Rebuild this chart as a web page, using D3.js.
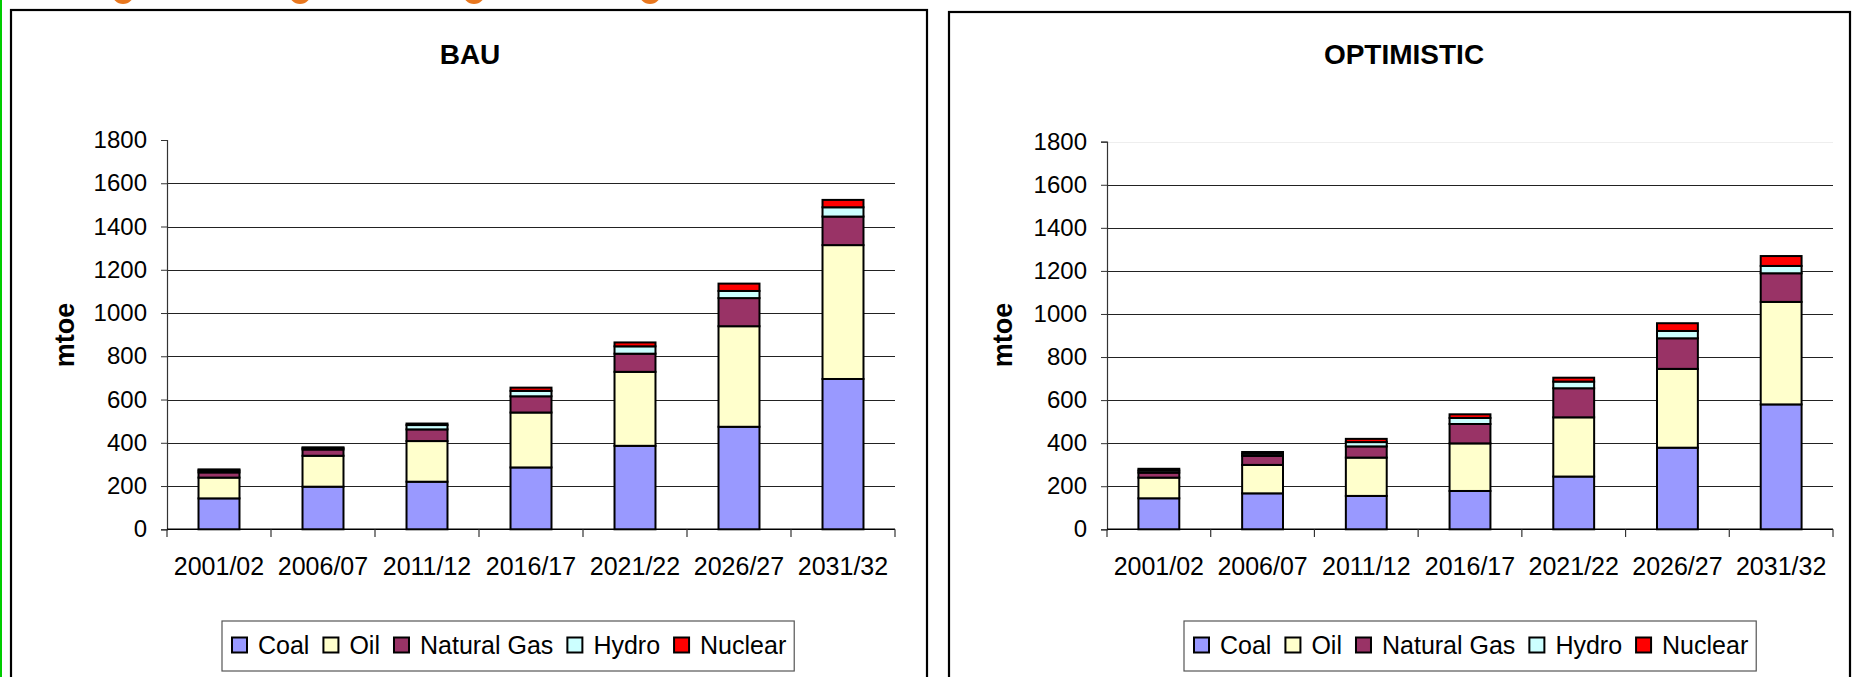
<!DOCTYPE html>
<html><head><meta charset="utf-8">
<script src="https://cdn.jsdelivr.net/npm/d3@7"></script>
<style>
html,body{margin:0;padding:0;background:#fff;}
svg{display:block;}
text{font-family:"Liberation Sans",Arial,sans-serif;}
</style></head>
<body>
<svg id="c" width="1855" height="677"></svg>
<script>
const categories = ["2001/02","2006/07","2011/12","2016/17","2021/22","2026/27","2031/32"];
const seriesNames = ["Coal","Oil","Natural Gas","Hydro","Nuclear"];
const seriesColors = ["#9999FF","#FFFFCC","#993366","#CCFFFF","#FF0000"];
const yTicks = [0,200,400,600,800,1000,1200,1400,1600,1800];

// BAU scenario (mtoe)
const bauCoal    = [143,197,220,286,386,474,695];
const bauOil     = [96,143,188,254,342,465,619];
const bauGas     = [24,29,54,75,84,130,132];
const bauHydro   = [9,6,20,25,34,33,43];
const bauNuclear = [5,4,7,15,18,34,34];

// OPTIMISTIC scenario (mtoe)
const optCoal    = [144,167,155,178,245,379,580];
const optOil     = [96,132,178,221,275,366,476];
const optGas     = [23,42,52,90,135,142,133];
const optHydro   = [10,10,20,28,31,34,34];
const optNuclear = [8,8,15,17,18,36,46];

const svg = d3.select("#c");

// slide decorations
svg.append("rect").attr("x",0).attr("y",0).attr("width",2).attr("height",677).attr("fill","#00CC00");
[123,300,474,650].forEach(cx=>{
  svg.append("circle").attr("cx",cx).attr("cy",-7).attr("r",11).attr("fill","#E8771E");
});

function buildRows(arrs){
  return categories.map((c,i)=>{
    const r={cat:c};
    seriesNames.forEach((s,j)=>r[s]=arrs[j][i]);
    return r;
  });
}

function drawPanel(cfg){
  const g = svg.append("g");
  g.append("rect").attr("x",cfg.px).attr("y",cfg.py).attr("width",cfg.pw).attr("height",720)
    .attr("fill","#fff").attr("stroke","#000").attr("stroke-width",2.2);
  g.append("text").attr("x",cfg.tx).attr("y",64).attr("text-anchor","middle")
    .attr("font-size",28).attr("font-weight","bold").text(cfg.title);

  const x = d3.scaleBand().domain(categories).range([cfg.x0,cfg.x1]);
  const y = d3.scaleLinear().domain([0,1800]).range([529.3,cfg.yTop]);

  g.append("g").selectAll("line").data(yTicks.filter(v=>v>0 && v<1800)).join("line")
    .attr("x1",cfg.x0).attr("x2",cfg.x1).attr("y1",d=>Math.round(y(d))+0.5).attr("y2",d=>Math.round(y(d))+0.5)
    .attr("stroke","#222").attr("stroke-width",1);
  if(cfg.topGrid){
    g.append("line").attr("x1",cfg.x0).attr("x2",cfg.x1).attr("y1",Math.round(y(1800))+0.5).attr("y2",Math.round(y(1800))+0.5)
      .attr("stroke","#eee").attr("stroke-width",1);
  }

  const ya = d3.axisLeft(y).tickValues(yTicks).tickSize(6).tickPadding(14).tickFormat(d3.format("d"));
  const yg = g.append("g").attr("transform",`translate(${cfg.x0},0)`).call(ya);
  yg.select(".domain").attr("stroke","#333").attr("stroke-width",1.2);
  yg.selectAll(".tick line").attr("stroke","#333");
  yg.selectAll(".tick text").attr("font-size",24).attr("fill","#000")
    .attr("font-family","'Liberation Sans',Arial,sans-serif");

  const bounds = categories.map(c=>x(c)).concat([cfg.x1]);
  g.append("line").attr("x1",cfg.x0).attr("x2",cfg.x1).attr("y1",529.3).attr("y2",529.3)
    .attr("stroke","#000").attr("stroke-width",1.5);
  g.append("g").selectAll("line").data(bounds).join("line")
    .attr("x1",d=>d).attr("x2",d=>d).attr("y1",529.3).attr("y2",537)
    .attr("stroke","#333").attr("stroke-width",1.2);
  g.append("g").selectAll("text").data(categories).join("text")
    .attr("x",d=>x(d)+x.bandwidth()/2).attr("y",575).attr("text-anchor","middle")
    .attr("font-size",25).text(d=>d);

  g.append("text").attr("transform",`translate(${cfg.lx},335) rotate(-90)`)
    .attr("text-anchor","middle").attr("font-size",27).attr("font-weight","bold").text("mtoe");

  const rows = buildRows(cfg.data);
  const stack = d3.stack().keys(seriesNames)(rows);
  const bw = x.bandwidth()*0.394;
  g.append("g").selectAll("g").data(stack).join("g")
    .attr("fill",(d,i)=>seriesColors[i])
    .selectAll("rect").data(d=>d).join("rect")
    .attr("x",d=>x(d.data.cat)+x.bandwidth()/2-bw/2)
    .attr("y",d=>y(d[1])).attr("width",bw).attr("height",d=>y(d[0])-y(d[1]))
    .attr("stroke","#000").attr("stroke-width",2);

  const lg = g.append("g").attr("transform",`translate(${cfg.legX},621)`);
  const box = lg.append("rect").attr("x",0).attr("y",0).attr("height",50)
    .attr("fill","#fff").attr("stroke","#555").attr("stroke-width",1.2);
  let cx = 10;
  seriesNames.forEach((s,i)=>{
    lg.append("rect").attr("x",cx).attr("y",16.5).attr("width",15).attr("height",15)
      .attr("fill",seriesColors[i]).attr("stroke","#000").attr("stroke-width",2);
    const t = lg.append("text").attr("x",cx+26).attr("y",33).attr("font-size",25).text(s);
    cx += 26 + t.node().getComputedTextLength() + 14;
  });
  box.attr("width",cx - 14 + 8);
}

drawPanel({px:11,py:10,pw:916,title:"BAU",tx:470,x0:167,x1:895,yTop:140,lx:74,legX:222,
  data:[bauCoal,bauOil,bauGas,bauHydro,bauNuclear],topGrid:false});
drawPanel({px:949,py:12,pw:901,title:"OPTIMISTIC",tx:1404,x0:1107,x1:1833,yTop:141.7,lx:1012,legX:1184,
  data:[optCoal,optOil,optGas,optHydro,optNuclear],topGrid:true});
</script>
</body></html>
